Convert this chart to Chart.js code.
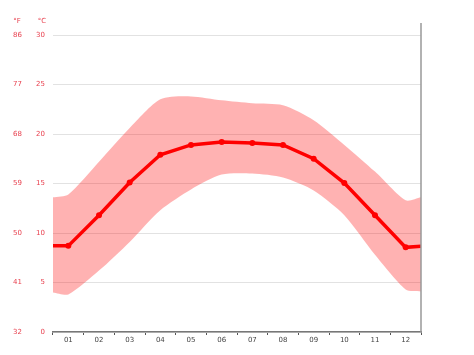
<!DOCTYPE html>
<html>
<head>
<meta charset="utf-8">
<script src="https://cdn.jsdelivr.net/npm/chart.js@4"></script>
<style>
html,body{margin:0;padding:0;background:#fff;}
#wrap{width:474px;height:355px;position:relative;}
</style>
</head>
<body>
<div id="wrap"><canvas id="c" width="474" height="355"></canvas></div>
<script>
// Month labels
const months = ['01','02','03','04','05','06','07','08','09','10','11','12'];
// Average temperature (°C)
const meanTemp = [8.7, 11.8, 15.1, 17.9, 18.9, 19.2, 19.1, 18.9, 17.5, 15.05, 11.8, 8.55];
// Average max (°C)
const maxTemp = [13.9, 17.2, 20.6, 23.5, 23.8, 23.4, 23.1, 22.9, 21.4, 18.9, 16.2, 13.3];
// Average min (°C)
const minTemp = [3.8, 6.2, 9.1, 12.3, 14.4, 15.9, 16.0, 15.6, 14.3, 11.8, 7.8, 4.3];
// Values at the left / right edge of the plot (year wrap)
const meanEdges = [8.7, 8.65];
const maxEdges = [13.6, 13.6];
const minEdges = [4.0, 4.1];
// Tick labels
const celsiusTicks = [0, 5, 10, 15, 20, 25, 30];
const fahrenheitTicks = ['32', '41', '50', '59', '68', '77', '86'];

function series(vals, edges) {
  const pts = [{x: 0.5, y: edges[0]}];
  vals.forEach((v, i) => pts.push({x: i + 1, y: v}));
  pts.push({x: months.length + 0.5, y: edges[1]});
  return pts;
}

const labelColor = '#e8414f';
const font7 = {family: 'DejaVu Sans', size: 7};

const extras = {
  id: 'extras',
  afterDraw(chart) {
    const ctx = chart.ctx;
    const a = chart.chartArea;
    ctx.save();
    ctx.strokeStyle = '#999';
    ctx.lineWidth = 1.5;
    ctx.beginPath();
    ctx.moveTo(a.right, a.top - 12);
    ctx.lineTo(a.right, a.bottom);
    ctx.stroke();
    ctx.fillStyle = labelColor;
    ctx.font = '7px "DejaVu Sans"';
    ctx.textAlign = 'center';
    ctx.textBaseline = 'middle';
    const sF = chart.scales.yF, sC = chart.scales.y;
    ctx.fillText('°F', sF.left + 17, 21);
    ctx.fillText('°C', sC.left + 14, 21);
    ctx.restore();
  }
};

new Chart(document.getElementById('c'), {
  type: 'line',
  data: {
    labels: months,
    datasets: [
      {
        label: 'mean',
        data: series(meanTemp, meanEdges),
        xAxisID: 'xl', yAxisID: 'y',
        borderColor: '#ff0000', backgroundColor: '#ff0000',
        borderWidth: 3.5,
        pointRadius: [0, 3, 3, 3, 3, 3, 3, 3, 3, 3, 3, 3, 3, 0],
        pointBorderWidth: 0,
        tension: 0, fill: false
      },
      {
        label: 'max',
        data: series(maxTemp, maxEdges),
        xAxisID: 'xl', yAxisID: 'y',
        borderWidth: 0, borderColor: 'rgba(0,0,0,0)',
        pointRadius: 0,
        backgroundColor: 'rgba(255,0,0,0.3)',
        tension: 0.25, fill: '+1'
      },
      {
        label: 'min',
        data: series(minTemp, minEdges),
        xAxisID: 'xl', yAxisID: 'y',
        borderWidth: 0, borderColor: 'rgba(0,0,0,0)',
        pointRadius: 0,
        tension: 0.25, fill: false
      }
    ]
  },
  options: {
    responsive: false,
    animation: false,
    events: [],
    layout: {padding: {top: 35, right: 53, left: 0, bottom: 0}},
    plugins: {legend: {display: false}, tooltip: {enabled: false}},
    scales: {
      x: {
        type: 'category',
        offset: true,
        grid: {offset: true, drawOnChartArea: false, drawTicks: true, tickLength: 3, color: '#555', lineWidth: 1},
        border: {display: true, color: '#777', width: 1.5},
        ticks: {color: '#444', font: font7, padding: 1, maxRotation: 0, autoSkip: false},
        afterFit(s) { s.height = 23; }
      },
      xl: {
        type: 'linear', display: false, min: 0.5, max: months.length + 0.5
      },
      y: {
        position: 'left', weight: 0,
        min: 0, max: 30,
        afterBuildTicks(s) { s.ticks = celsiusTicks.map(v => ({value: v})); },
        ticks: {color: labelColor, font: font7, padding: 8},
        grid: {color: '#e2e2e2', lineWidth: 1, drawTicks: false},
        border: {display: false},
        afterFit(s) { s.width = 25; }
      },
      yF: {
        position: 'left', weight: 1,
        min: 0, max: 30,
        afterBuildTicks(s) { s.ticks = celsiusTicks.map(v => ({value: v})); },
        ticks: {color: labelColor, font: font7, padding: 6,
          callback: (v, i) => fahrenheitTicks[i]},
        grid: {display: false, drawTicks: false},
        border: {display: false},
        afterFit(s) { s.width = 28; }
      }
    }
  },
  plugins: [extras]
});
</script>
</body>
</html>
